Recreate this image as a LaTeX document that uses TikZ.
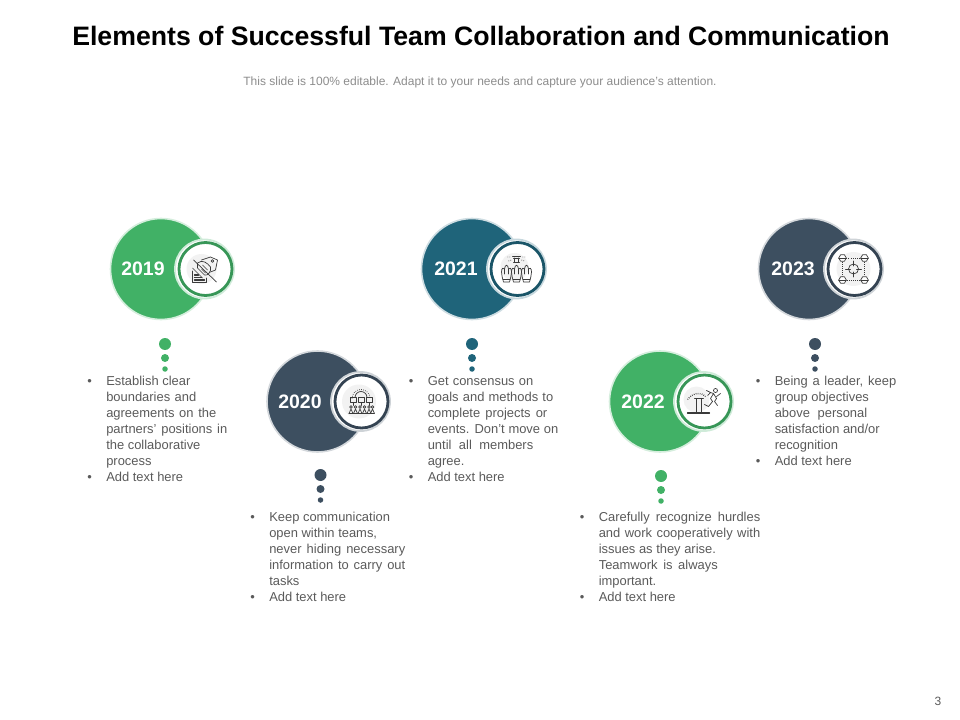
\documentclass[tikz,border=0pt]{standalone}
\usepackage{fontspec}
\setmainfont{Liberation Sans}
\definecolor{cgreen}{HTML}{41B166}
\definecolor{cteal}{HTML}{1F647A}
\definecolor{cslate}{HTML}{3D4F60}
\definecolor{ctext}{HTML}{5A5A5A}
\definecolor{csub}{HTML}{8C8C8C}
\definecolor{cicon}{HTML}{3A3A3A}
\newlength\pxu \pxu=0.75pt
\newcommand{\bl}[1]{\hbox{\hbox to 19\pxu{\textbullet\hss}#1}}
\newcommand{\nl}[1]{\hbox{\hspace*{19\pxu}#1}}
\newcommand{\jb}[2]{\hbox to #1\pxu{\hbox to 19\pxu{\textbullet\hss}#2}}
\newcommand{\jl}[2]{\hbox to #1\pxu{\hspace*{19\pxu}#2}}
\newcommand{\bigdisc}[3]{% name, centre, colour
  \node[bigc,fill=#3,draw=#3!22!white] (#1) at (#2) {};}
\newcommand{\smalldisc}[3]{%
  \node[smallc,draw=#3!25!white] (#1) at (#2) {};
  \draw[#3!85!black,line width=2.8\pxu] ([xshift=1\pxu]#1.center) circle[radius=26.5];}
\newcommand{\dotrow}[4]{% name, x, y, colour
  \node[dotc,minimum size=12\pxu,fill=#4] (#1a) at (#2,#3) {};
  \node[dotc,minimum size=8\pxu,fill=#4] (#1b) at (#2,#3+14) {};
  \node[dotc,minimum size=5.5\pxu,fill=#4] (#1c) at (#2,#3+25) {};}
\tikzset{
  bigc/.style={circle,minimum size=101\pxu,inner sep=0,line width=1.6\pxu},
  smallc/.style={circle,minimum size=59\pxu,inner sep=0,fill=white,line width=1.8\pxu},
  dotc/.style={circle,inner sep=0},
  yearl/.style={text=white,font=\fontsize{14.6}{16}\selectfont\bfseries},
  body/.style={anchor=north west,inner sep=0,align=left,text=ctext,font=\fontsize{9.7}{12}\selectfont},
  ic/.style={draw=cicon,line width=0.7\pxu,line cap=round,line join=round},
  icd/.style={draw=cicon,line width=0.7\pxu,densely dotted}
}
\begin{document}
\begin{tikzpicture}[x=0.75pt,y=-0.75pt]
\useasboundingbox (0,0) rectangle (960,720);
\node[font=\fontsize{20}{24}\selectfont\bfseries,text=black,inner sep=0] (title) at (481,36) {Elements of Successful Team Collaboration and Communication};
\node[font=\fontsize{9}{11}\selectfont,text=csub,inner sep=0] (sub) at (480,82) {This slide is 100\% editable. Adapt it to your needs and capture your audience's attention.};
\node[font=\fontsize{9}{11}\selectfont,text=ctext,inner sep=0] (page) at (938,701) {3};

% 2019
\bigdisc{c19}{161,269}{cgreen}
\smalldisc{s19}{204.5,269}{cgreen}
\node[yearl] (y19) at (143,269) {2019};
\dotrow{d19}{165}{344}{cgreen}
\begin{scope}[shift={(204.5,269)}]
  \fill[black!5] (-3,0) circle[radius=15];
  \draw[ic] (-3,-9) -- (6,-12) -- (13,-9) -- (11,1) -- (6,3);
  \draw[ic] (8,-8) circle[radius=1.3];
  \draw[ic] (-11,-9) -- (12,13);
  \draw[ic] (-12,-1) -- (-2,9);
  \draw[ic] (-7,-6) .. controls (-2,-10) and (3,-6) .. (6,-2) .. controls (7,3) and (3,7) .. (0,6) -- (-7,-1) -- cycle;
  \draw[ic] (-2,-4) -- (3,1) (-3,0) -- (1,4);
  \draw[ic] (-12,2) -- (-12,13) -- (2,13) -- (2,9);
  \draw[ic,line width=1.3\pxu] (-10,6) -- (-6,6) (-10,8.5) -- (-3,8.5) (-10,11) -- (0,11);
\end{scope}
\node[body] (t19) at (87,376) {%
  \bl{Establish clear}\\
  \jl{109}{boundaries and}\\
  \jl{129}{agreements on the}\\
  \jl{140}{partners' positions in}\\
  \nl{the collaborative}\\
  \nl{process}\\
  \bl{Add text here}};

% 2020
\bigdisc{c20}{317.5,401.5}{cslate}
\smalldisc{s20}{360.5,401.5}{cslate}
\node[yearl] (y20) at (300,401.5) {2020};
\dotrow{d20}{320.5}{475}{cslate}
\begin{scope}[shift={(361,401.5)}]
  \fill[black!5] (-2,0) circle[radius=17];
  \draw[icd] (-9,-3) arc[start angle=180,end angle=360,radius=9];
  \draw[ic] (-6,-4) arc[start angle=180,end angle=360,radius=6];
  \foreach \x in {-11,-3,5}{
    \draw[ic] (\x,-4) rectangle ++(6,5);
    \draw[ic] (\x+3,1) -- (\x+3,4);}
  \foreach \x in {-10,-5.5,-1,3.5,8,11.5}{
    \draw[ic] (\x,5.5) circle[radius=1.3];
    \draw[ic] (\x-2,12) -- (\x,7.5) -- (\x+2,12);}
  \draw[ic] (-12,12) -- (13,12);
\end{scope}
\node[body] (t20) at (250,512) {%
  \bl{Keep communication}\\
  \nl{open within teams,}\\
  \jl{155}{never hiding necessary}\\
  \jl{155}{information to carry out}\\
  \nl{tasks}\\
  \bl{Add text here}};

% 2021
\bigdisc{c21}{472,269}{cteal}
\smalldisc{s21}{516.5,269}{cteal}
\node[yearl] (y21) at (456,269) {2021};
\dotrow{d21}{472}{344}{cteal}
\begin{scope}[shift={(516.5,269)}]
  \fill[black!5] (-2,-2) circle[radius=14];
  \draw[ic] (-4,-13) -- (4,-13) (-3,-11) -- (3,-11) (-2,-11) -- (-2,-7) (2,-11) -- (2,-7) (-3,-7) -- (3,-7);
  \draw[icd] (-9,-12) -- (-6,-12) (6,-12) -- (9,-12) (-8,-8) -- (-5,-9) (5,-9) -- (8,-8);
  \foreach \x in {-10,0,10}{
    \draw[ic] (\x-3,13) .. controls (\x-4,9) and (\x-5,6) .. (\x-5,3)
      .. controls (\x-5,-1) and (\x-3,-2) .. (\x-2,0)
      .. controls (\x-1.5,-5) and (\x+1.5,-5) .. (\x+2,0)
      .. controls (\x+3,-2) and (\x+5,-1) .. (\x+5,3)
      .. controls (\x+5,6) and (\x+4,9) .. (\x+3,13) -- cycle;
    \draw[ic] (\x-3.5,10) -- (\x+3.5,10) (\x-2,0) -- (\x-2,5) (\x+2,0) -- (\x+2,5);}
\end{scope}
\node[body] (t21) at (408.5,376) {%
  \jb{124.5}{Get consensus on}\\
  \jl{144.5}{goals and methods to}\\
  \jl{138.5}{complete projects or}\\
  \jl{149.5}{events. Don't move on}\\
  \jl{124.5}{until all members}\\
  \nl{agree.}\\
  \bl{Add text here}};

% 2022
\bigdisc{c22}{660,401.5}{cgreen}
\smalldisc{s22}{703.5,401.5}{cgreen}
\node[yearl] (y22) at (643,401.5) {2022};
\dotrow{d22}{661}{476}{cgreen}
\begin{scope}[shift={(703.5,401.5)}]
  \fill[black!5] (-7,-2) circle[radius=13];
  \draw[ic,line width=1.3\pxu] (-16,11.5) -- (6,11.5);
  \draw[ic] (-7,11.5) -- (-7,-3.5) -- (-2,-3.5) -- (-2,11.5);
  \draw[ic] (-9,-3.5) -- (0,-3.5);
  \draw[icd,line width=1.4\pxu] (-16,-2) .. controls (-10,-9) and (-3,-10) .. (2,-5);
  \draw[ic] (12,-11) circle[radius=2];
  \draw[ic] (3,-11) -- (7,-9) -- (10,-8) -- (13,-3) -- (11,0) -- (14,4) (10,-8) -- (7,-3) -- (9,0) -- (5,5) -- (1,3) (13,-5) -- (17,-8) (7,-9) -- (4,-6);
\end{scope}
\node[body] (t22) at (579.5,512) {%
  \jb{180.5}{Carefully recognize hurdles}\\
  \jl{180.5}{and work cooperatively with}\\
  \nl{issues as they arise.}\\
  \jl{138}{Teamwork is always}\\
  \nl{important.}\\
  \bl{Add text here}};

% 2023
\bigdisc{c23}{809,269}{cslate}
\smalldisc{s23}{853.5,269}{cslate}
\node[yearl] (y23) at (793,269) {2023};
\dotrow{d23}{815}{344}{cslate}
\begin{scope}[shift={(853.5,269)}]
  \fill[black!5] (0,0) circle[radius=17];
  \draw[icd] (-11,-11) rectangle (11,11);
  \foreach \x/\y in {-11/-11,11/-11,-11/11,11/11}{
    \fill[white] (\x,\y) circle[radius=3.6];
    \draw[ic] (\x-3.8,\y) -- (\x-1.9,\y-3.2) -- (\x+1.9,\y-3.2) -- (\x+3.8,\y) -- (\x+1.9,\y+3.2) -- (\x-1.9,\y+3.2) -- cycle;
    \draw[ic] (\x-3.8,\y) -- (\x+3.8,\y);}
  \draw[ic] (0,0) circle[radius=5];
  \draw[ic] (-8,0) -- (-3,0) (3,0) -- (8,0) (0,-8) -- (0,-3) (0,3) -- (0,8);
\end{scope}
\node[body] (t23) at (755.5,376) {%
  \jb{140.5}{Being a leader, keep}\\
  \nl{group objectives}\\
  \jl{111.5}{above personal}\\
  \nl{satisfaction and/or}\\
  \nl{recognition}\\
  \bl{Add text here}};
\end{tikzpicture}
\end{document}
